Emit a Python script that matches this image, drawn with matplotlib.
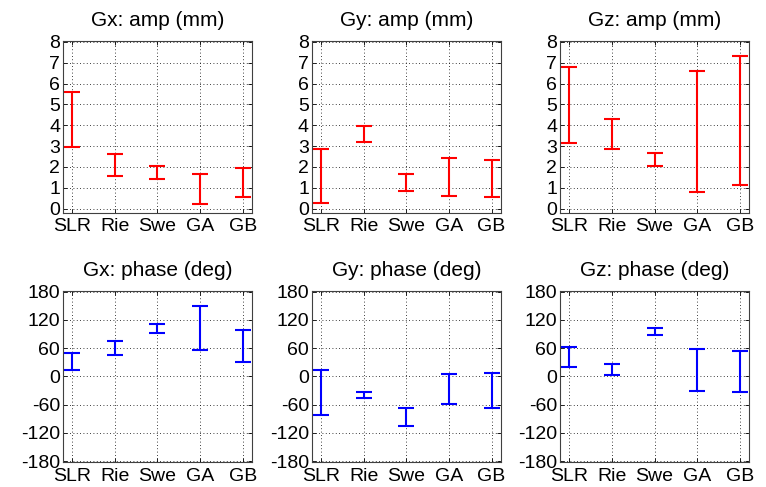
import matplotlib
matplotlib.use("Agg")
import matplotlib.pyplot as plt
import numpy as np

plt.rcParams["font.family"] = ["Liberation Sans", "DejaVu Sans"]
plt.rcParams["axes.unicode_minus"] = False

methods = ["SLR", "Rie", "Swe", "GA", "GB"]
titles = ["Gx: amp (mm)", "Gy: amp (mm)", "Gz: amp (mm)",
          "Gx: phase (deg)", "Gy: phase (deg)", "Gz: phase (deg)"]

# ranges: (low, high) per method
gx_amp_lo = [2.98, 1.56, 1.43, 0.24, 0.55]
gx_amp_hi = [5.6, 2.6, 2.03, 1.65, 1.97]
gy_amp_lo = [0.27, 3.21, 0.83, 0.6, 0.54]
gy_amp_hi = [2.85, 3.97, 1.64, 2.43, 2.33]
gz_amp_lo = [3.13, 2.85, 2.06, 0.82, 1.13]
gz_amp_hi = [6.82, 4.3, 2.68, 6.61, 7.31]

gx_ph_lo = [13, 46, 92, 57, 31]
gx_ph_hi = [50, 75, 112, 149, 99]
gy_ph_lo = [-82, -46, -106, -58, -68]
gy_ph_hi = [14, -33, -67, 5, 7]
gz_ph_lo = [20, 4, 88, -30, -34]
gz_ph_hi = [63, 27, 103, 58, 55]

amp_ticks = [0, 1, 2, 3, 4, 5, 6, 7, 8]
phase_ticks = [-180, -120, -60, 0, 60, 120, 180]

lows = [gx_amp_lo, gy_amp_lo, gz_amp_lo, gx_ph_lo, gy_ph_lo, gz_ph_lo]
highs = [gx_amp_hi, gy_amp_hi, gz_amp_hi, gx_ph_hi, gy_ph_hi, gz_ph_hi]

fig = plt.figure(figsize=(7.66, 4.87), dpi=100)
lefts = [0.082, 0.407, 0.731]
x = np.arange(1, len(methods) + 1)

for i in range(6):
    row, col = divmod(i, 3)
    if row == 0:
        ax = fig.add_axes([lefts[col], 0.563, 0.247, 0.353])
        color = "#ff0000"
    else:
        ax = fig.add_axes([lefts[col], 0.051, 0.247, 0.351])
        color = "#0000ff"
    lo = np.array(lows[i], dtype=float)
    hi = np.array(highs[i], dtype=float)
    mid = (lo + hi) / 2
    ax.errorbar(x, mid, yerr=(hi - lo) / 2, fmt="none", ecolor=color,
                elinewidth=1.5, capsize=5.5, capthick=1.5)
    ax.set_xlim(0.78, 5.22)
    if row == 0:
        ax.set_ylim(-0.2, 8.05)
        ax.set_yticks(amp_ticks)
    else:
        ax.set_ylim(-182, 181)
        ax.set_yticks(phase_ticks)
    ax.set_xticks(x)
    ax.set_xticklabels(methods)
    ax.set_title(titles[i], fontsize=15, pad=11)
    ax.grid(True, linestyle=(0, (1, 3)), color="black", linewidth=0.6)
    ax.tick_params(direction="in", length=3, labelsize=14, top=True, right=True,
                   pad=2, width=0.6)
    ax.tick_params(axis="x", pad=4)
    for s in ax.spines.values():
        s.set_linewidth(0.8)
        s.set_color("#404040")

fig.savefig("out.png", dpi=100)
